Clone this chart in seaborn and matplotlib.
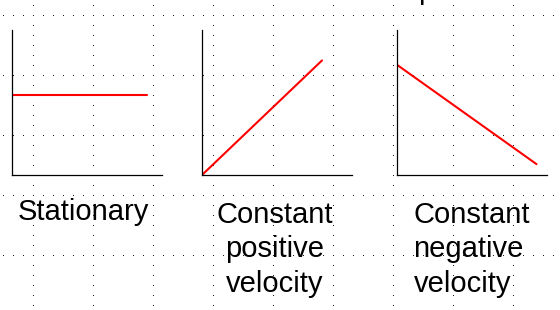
import numpy as np
import matplotlib
matplotlib.use("Agg")
import matplotlib.pyplot as plt
import seaborn as sns

sns.set_theme(style="white")
plt.rcParams['font.family'] = ['Liberation Sans', 'DejaVu Sans']

# Data (time vs position, arbitrary units)
t_stationary = [0, 9.0]
x_stationary = [5.5, 5.5]
t_positive = [0, 8.0]
x_positive = [0, 7.9]
t_negative = [0, 9.3]
x_negative = [7.6, 0.75]
labels = ["Stationary", "Constant\npositive\nvelocity", "Constant\nnegative\nvelocity"]

W, H = 560, 310
fig = plt.figure(figsize=(W / 100, H / 100), dpi=100)
fig.patch.set_facecolor("white")

# dotted background grid (single-pixel dots) as a pixel image
bg = fig.add_axes([0, 0, 1, 1], zorder=-1)
grid_img = np.ones((H, W, 3))
rows = np.arange(15, H, 60)
cols = np.arange(33, W, 60)
for r in rows:
    grid_img[r, 3::10] = 0.1
for c in cols:
    grid_img[5::10, c] = 0.1
bg.imshow(grid_img, extent=(0, W, H, 0), interpolation="nearest", aspect="auto")
bg.set_xlim(0, W)
bg.set_ylim(H, 0)
bg.axis("off")

def add_panel(left_px, t, x):
    ax = fig.add_axes([left_px / W, (H - 175) / H, 150 / W, 145 / H])
    ax.patch.set_alpha(0)
    sns.lineplot(x=t, y=x, ax=ax, color="#ff0000", linewidth=1.5)
    ax.set_xlim(0, 10)
    ax.set_ylim(0, 10)
    ax.set_xticks([])
    ax.set_yticks([])
    ax.set_xlabel("")
    ax.set_ylabel("")
    for s in ["top", "right"]:
        ax.spines[s].set_visible(False)
    for s in ["left", "bottom"]:
        ax.spines[s].set_color("black")
        ax.spines[s].set_linewidth(0.9)
    return ax

add_panel(12, t_stationary, x_stationary)
add_panel(202, t_positive, x_positive)
add_panel(397, t_negative, x_negative)

fs = 21
ls = 1.3
fig.text(17.5 / W, 1 - 220 / H, labels[0], fontsize=fs, ha="left", va="baseline", color="black")
# multi-line labels: baseline anchor is the last line (at y=292 px)
fig.text(274.5 / W, 1 - 292 / H, labels[1], fontsize=fs, ha="center", va="baseline",
         multialignment="center", linespacing=ls, color="black")
fig.text(413.5 / W, 1 - 292 / H, labels[2], fontsize=fs, ha="left", va="baseline",
         multialignment="left", linespacing=ls, color="black")
# clipped title fragment at top
fig.text(418 / W, 1 + 1 / H, "p", fontsize=fs, ha="left", va="baseline", color="black")

fig.savefig("out.png", dpi=100, facecolor="white")
